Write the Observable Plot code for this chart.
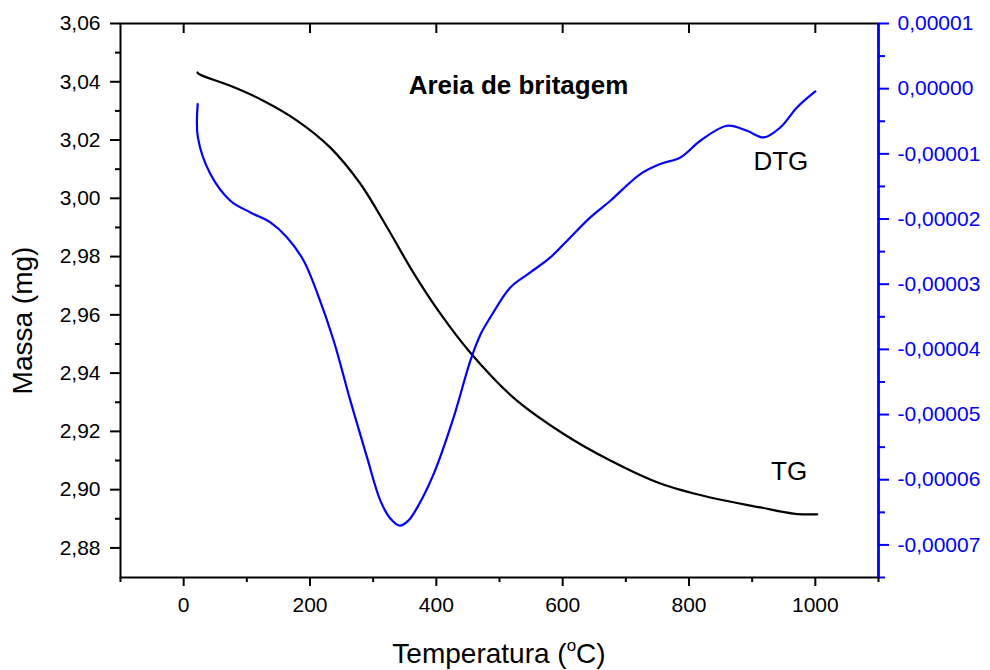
<!DOCTYPE html>
<html>
<head>
<meta charset="utf-8">
<script src="https://cdn.jsdelivr.net/npm/d3@7"></script>
<script src="https://cdn.jsdelivr.net/npm/@observablehq/plot@0.6"></script>
<style>
  html, body { margin: 0; padding: 0; background: white; }
</style>
</head>
<body>
<div id="chart"></div>
<script>
// ---- Data ----
const tgTemp = [21.7, 26.4, 73.9, 126.1, 180, 232.2, 279.7, 322.4, 363.6, 406.4, 453.9, 522, 601, 675.5, 754.7, 833.8, 913, 965, 1003];
const tgMass = [3.0432, 3.0424, 3.0386, 3.0335, 3.0266, 3.0174, 3.0050, 2.9899, 2.9745, 2.9604, 2.9470, 2.9316, 2.9192, 2.9100, 2.9021, 2.8973, 2.8939, 2.8918, 2.8915];

const dtgTemp = [22.2, 22.5, 42.3, 73.9, 105.6, 137.2, 163.7, 190, 211.2, 237.5, 263.9, 290.3, 311.4, 327.2, 341.9, 355.7, 371.5, 395.8, 427.4, 453.9, 469.7, 485.5, 517.2, 548.8, 580.5, 612.1, 643.8, 675.5, 723, 754.7, 786.4, 818, 860.2, 891.9, 918.2, 944.6, 971, 1000];
const dtgValue = [-0.236e-5, -0.748e-5, -1.310e-5, -1.719e-5, -1.899e-5, -2.052e-5, -2.282e-5, -2.640e-5, -3.130e-5, -3.867e-5, -4.787e-5, -5.656e-5, -6.321e-5, -6.596e-5, -6.704e-5, -6.627e-5, -6.397e-5, -5.911e-5, -5.043e-5, -4.173e-5, -3.775e-5, -3.509e-5, -3.049e-5, -2.819e-5, -2.589e-5, -2.282e-5, -1.975e-5, -1.719e-5, -1.310e-5, -1.156e-5, -1.055e-5, -0.799e-5, -0.569e-5, -0.646e-5, -0.748e-5, -0.595e-5, -0.288e-5, -0.043e-5];

const xMajorTicks = [0, 200, 400, 600, 800, 1000];
const xMinorTicks = [-100, 100, 300, 500, 700, 900, 1100];
const yMajorTicks = [2.88, 2.90, 2.92, 2.94, 2.96, 2.98, 3.00, 3.02, 3.04, 3.06];
const yMinorTicks = [2.89, 2.91, 2.93, 2.95, 2.97, 2.99, 3.01, 3.03, 3.05];
const y2MajorTicks = [-0.00007, -0.00006, -0.00005, -0.00004, -0.00003, -0.00002, -0.00001, 0, 0.00001];
const y2MinorTicks = [-0.000075, -0.000065, -0.000055, -0.000045, -0.000035, -0.000025, -0.000015, -0.000005, 0.000005];

// ---- Scales ----
const xDomain = [-100, 1100];
const yDomain = [2.86985, 3.06];
const y2Domain = [-0.0000750, 0.00001];
const toY = v => yDomain[0] + (v - y2Domain[0]) / (y2Domain[1] - y2Domain[0]) * (yDomain[1] - yDomain[0]);
const fromY = y => y2Domain[0] + (y - yDomain[0]) / (yDomain[1] - yDomain[0]) * (y2Domain[1] - y2Domain[0]);

const tg = tgTemp.map((t, i) => ({t, m: tgMass[i]}));
const dtg = dtgTemp.map((t, i) => ({t, v: dtgValue[i]}));

const fmtLeft = d => d.toFixed(2).replace(".", ",");
const fmtRight = d => { let v = fromY(d); if (Math.abs(v) < 1e-9) v = 0; return v.toFixed(5).replace(".", ","); };

const FONT = "'Liberation Sans', Arial, sans-serif";

const chart = Plot.plot({
  width: 990,
  height: 670,
  marginLeft: 120,
  marginRight: 112,
  marginTop: 23,
  marginBottom: 93,
  style: {fontFamily: FONT, fontSize: "21px", background: "white", color: "black"},
  x: {domain: xDomain},
  y: {domain: yDomain},
  marks: [
    // bottom axis
    Plot.axisX(xMajorTicks, {anchor: "bottom", tickSize: 9, tickPadding: 11, strokeWidth: 2, fontSize: 21, tickFormat: d => String(d), label: null}),
    Plot.axisX(xMinorTicks, {anchor: "bottom", tickSize: 5, strokeWidth: 2, fill: "none", label: null}),
    // top inward ticks
    Plot.tickX(xMajorTicks, {x: d => d, stroke: "black", strokeWidth: 2, insetBottom: 544}),
    // left axis
    Plot.axisY(yMajorTicks, {anchor: "left", tickSize: 10, tickPadding: 10, strokeWidth: 2, fontSize: 21, tickFormat: fmtLeft, label: null}),
    Plot.axisY(yMinorTicks, {anchor: "left", tickSize: 5, strokeWidth: 2, fill: "none", label: null}),
    // right axis (DTG)
    Plot.axisY(y2MajorTicks.map(toY), {anchor: "right", tickSize: 10, tickPadding: 9, strokeWidth: 2, fontSize: 21, color: "blue", stroke: "blue", fill: "blue", tickFormat: fmtRight, label: null}),
    Plot.axisY(y2MinorTicks.map(toY), {anchor: "right", tickSize: 6, strokeWidth: 2, stroke: "blue", fill: "none", label: null}),
    // frame
    Plot.frame({stroke: "black", strokeWidth: 2}),
    Plot.ruleX([xDomain[1]], {stroke: "blue", strokeWidth: 2.5}),
    // curves
    Plot.line(tg, {x: "t", y: "m", curve: "catmull-rom", stroke: "black", strokeWidth: 2.2}),
    Plot.line(dtg, {x: "t", y: d => toY(d.v), curve: "catmull-rom", stroke: "blue", strokeWidth: 2.2}),
    // annotations
    Plot.text(["Areia de britagem"], {x: 530, y: 3.0358, text: d => d, fontWeight: "bold", fontSize: 26, textAnchor: "middle", lineAnchor: "bottom", fill: "black"}),
    Plot.text(["DTG"], {x: 902, y: 3.0097, text: d => d, fontSize: 26, textAnchor: "start", lineAnchor: "bottom", fill: "black"}),
    Plot.text(["TG"], {x: 930, y: 2.9034, text: d => d, fontSize: 26, textAnchor: "start", lineAnchor: "bottom", fill: "black"}),
    Plot.text(["Massa (mg)"], {frameAnchor: "left", dx: -97, dy: 20, rotate: -90, text: d => d, fontSize: 28, textAnchor: "middle", lineAnchor: "middle", fill: "black"})
  ]
});

document.getElementById("chart").appendChild(chart);

// x-axis title with superscript degree "o"
const svg = d3.select(chart);
const xt = svg.append("text")
  .attr("x", 499)
  .attr("y", 663)
  .attr("text-anchor", "middle")
  .attr("font-family", FONT)
  .attr("font-size", 28)
  .attr("fill", "black");
xt.append("tspan").text("Temperatura (");
xt.append("tspan").attr("font-size", 17).attr("dy", -12).text("o");
xt.append("tspan").attr("dy", 12).text("C)");
</script>
</body>
</html>
